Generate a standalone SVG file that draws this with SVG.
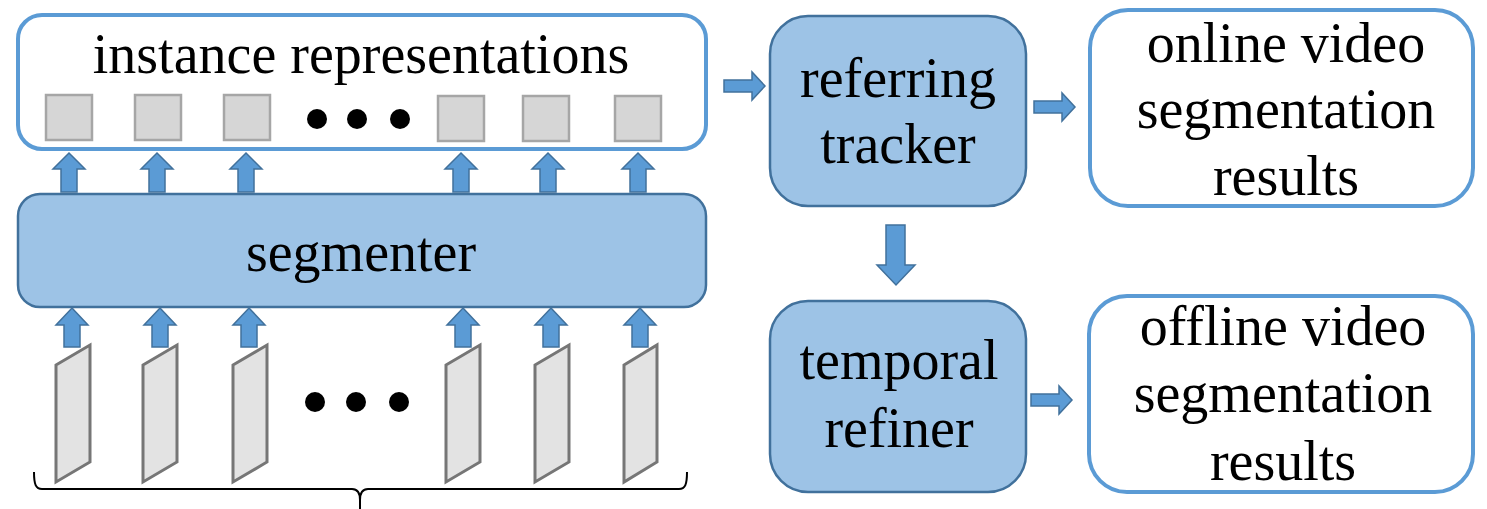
<svg xmlns="http://www.w3.org/2000/svg" width="1487" height="509" viewBox="0 0 1487 509">
<defs>
<style>
.txt{font-family:"Liberation Serif","Times New Roman",serif;font-size:56px;fill:#000;text-anchor:middle}
.wbox{fill:#fff;stroke:#5b9bd5;stroke-width:4}
.bbox{fill:#9dc3e6;stroke:#41719c;stroke-width:2.5}
.arr{fill:#5b9bd5;stroke:#41719c;stroke-width:1.5;stroke-linejoin:miter}
.sq{fill:#d6d6d6;stroke:#a6a6a6;stroke-width:2.5}
.fr{fill:#e3e3e3;stroke:#767676;stroke-width:3}
.dot{fill:#000}
</style>
<path id="up" d="M0,0 L16,16 L8,16 L8,39 L-8,39 L-8,16 L-16,16 Z"/>
<path id="up2" d="M0,0 L16,17 L8,17 L8,39 L-8,39 L-8,17 L-16,17 Z"/>
<path id="rt" d="M0,-6 L28,-6 L28,-14 L41,0 L28,14 L28,6 L0,6 Z"/>
</defs>

<g id="instance-representations">
<rect class="wbox" x="18" y="15" width="688" height="134" rx="24"/>
<text class="txt" x="361" y="73">instance representations</text>
<rect class="sq" x="46" y="95" width="46" height="45"/>
<rect class="sq" x="135" y="95" width="46" height="45"/>
<rect class="sq" x="224" y="95" width="46" height="45"/>
<circle class="dot" cx="317" cy="119" r="10"/>
<circle class="dot" cx="357" cy="119" r="10"/>
<circle class="dot" cx="400" cy="119" r="10"/>
<rect class="sq" x="438" y="96" width="46" height="45"/>
<rect class="sq" x="523" y="96" width="46" height="45"/>
<rect class="sq" x="615" y="96" width="46" height="45"/>
</g>

<g id="segmenter">
<rect class="bbox" x="18" y="194" width="688" height="113" rx="22"/>
<text class="txt" x="361" y="271">segmenter</text>
</g>

<g id="frames">
<polygon class="fr" points="56,365 90,345 90,462 56,482"/>
<polygon class="fr" points="143,365 177,345 177,462 143,482"/>
<polygon class="fr" points="233,365 267,345 267,462 233,482"/>
<circle class="dot" cx="315" cy="402" r="10"/>
<circle class="dot" cx="356" cy="402" r="10"/>
<circle class="dot" cx="399" cy="402" r="10"/>
<polygon class="fr" points="446,365 480,345 480,462 446,482"/>
<polygon class="fr" points="535,365 569,345 569,462 535,482"/>
<polygon class="fr" points="624,365 657,345 657,462 624,482"/>
<path d="M34,472 C34,485 36,489 42,489 L352,489 C357,489 360,492 360,500 L360,509 M687,472 C687,485 685,489 679,489 L368,489 C363,489 360,492 360,500" fill="none" stroke="#000" stroke-width="2"/>
</g>

<g id="referring-tracker">
<rect class="bbox" x="770" y="16" width="256" height="190" rx="38"/>
<text class="txt" x="898" y="97">referring</text>
<text class="txt" x="898" y="163">tracker</text>
</g>

<g id="online-results">
<rect class="wbox" x="1090" y="10" width="383" height="196" rx="38"/>
<text class="txt" x="1286" y="62">online video</text>
<text class="txt" x="1286" y="128">segmentation</text>
<text class="txt" x="1286" y="195">results</text>
</g>

<g id="temporal-refiner">
<rect class="bbox" x="770" y="301" width="256" height="191" rx="38"/>
<text class="txt" x="899" y="379">temporal</text>
<text class="txt" x="899" y="447">refiner</text>
</g>

<g id="offline-results">
<rect class="wbox" x="1089" y="296" width="384" height="196" rx="38"/>
<text class="txt" x="1283" y="345">offline video</text>
<text class="txt" x="1283" y="412">segmentation</text>
<text class="txt" x="1283" y="480">results</text>
</g>

<g id="connectors">
<use href="#up" class="arr" x="69" y="153"/>
<use href="#up" class="arr" x="157" y="153"/>
<use href="#up" class="arr" x="246" y="153"/>
<use href="#up" class="arr" x="461" y="153"/>
<use href="#up" class="arr" x="548" y="153"/>
<use href="#up" class="arr" x="638" y="153"/>
<use href="#up2" class="arr" x="72" y="308"/>
<use href="#up2" class="arr" x="160" y="308"/>
<use href="#up2" class="arr" x="249" y="308"/>
<use href="#up2" class="arr" x="463" y="308"/>
<use href="#up2" class="arr" x="551" y="308"/>
<use href="#up2" class="arr" x="640" y="308"/>
<use href="#rt" class="arr" x="724" y="86"/>
<use href="#rt" class="arr" x="1034" y="107"/>
<use href="#rt" class="arr" x="1031" y="400"/>
<path class="arr" d="M886,225 L905,225 L905,265 L915,265 L896,285 L877,265 L886,265 Z"/>
</g>
</svg>
